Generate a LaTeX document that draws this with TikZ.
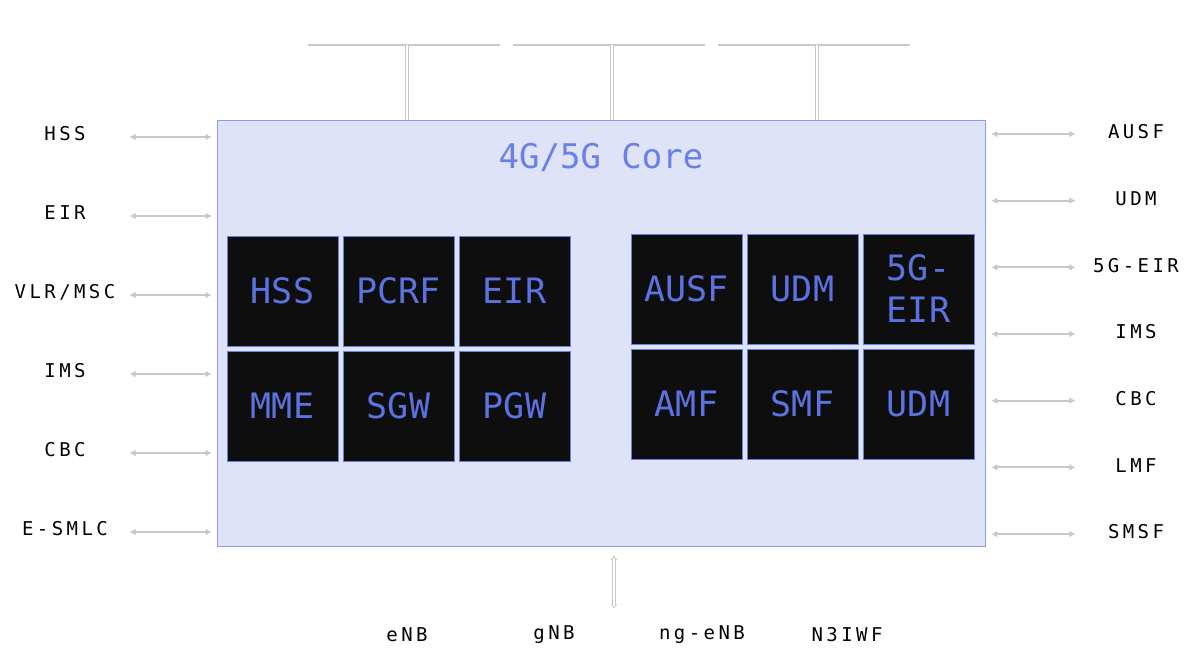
\documentclass[tikz,border=0pt]{standalone}
\usepackage{fontspec}
\setmonofont{DejaVu Sans Mono}
\newfontfamily\lblfont{DejaVu Sans Mono}[LetterSpace=18]
\usetikzlibrary{arrows.meta, positioning, calc}
\definecolor{cCore}{HTML}{DFE3F8}
\definecolor{cCoreEdge}{HTML}{8E9BEA}
\definecolor{cCell}{HTML}{0E0E0E}
\definecolor{cCellEdge}{HTML}{6B7FE0}
\definecolor{cText}{HTML}{5B72E0}
\definecolor{cTitle}{HTML}{6A80E6}
\definecolor{cWire}{HTML}{C8C8C8}
\tikzset{
  core/.style={draw=cCoreEdge, fill=cCore, line width=0.8pt,
    minimum width=768pt, minimum height=426pt, inner sep=0pt},
  cell/.style={draw=cCellEdge, fill=cCell, line width=1pt,
    minimum width=111pt, minimum height=110pt, inner sep=2pt,
    text width=100pt, align=center, text=cText,
    font=\ttfamily\fontsize{35}{42}\selectfont},
  ext/.style={font=\lblfont\fontsize{19}{22}\selectfont, text=black, inner sep=0pt},
  link/.style={{Latex[length=6pt,width=7pt]}-{Latex[length=6pt,width=7pt]},
    draw=cWire, line width=1.8pt},
  bus/.style={draw=cWire, line width=1.8pt},
  drop/.style={draw=cWire, line width=0.8pt, double=white, double distance=1.5pt},
  updown/.style={{Implies}-{Implies}, draw=cWire, line width=0.8pt,
    double=white, double distance=1.5pt},
}
\begin{document}
\begin{tikzpicture}[x=1pt, y=-1pt]
  \useasboundingbox (0,0) rectangle (1200,662);

  % Core box
  \node[core] (core) at (601,333) {};
  \node[font=\ttfamily\fontsize{34}{40}\selectfont, text=cTitle] (title) at (601,157) {4G/5G Core};

  % 4G functions
  \node[cell] (hss) at (282.5,291) {HSS};
  \node[cell, right=4pt of hss]  (pcrf) {PCRF};
  \node[cell, right=4pt of pcrf] (eir)  {EIR};
  \node[cell, below=4pt of hss]  (mme)  {MME};
  \node[cell, below=4pt of pcrf] (sgw)  {SGW};
  \node[cell, below=4pt of eir]  (pgw)  {PGW};

  % 5G functions
  \node[cell] (ausf) at (686.5,289) {AUSF};
  \node[cell, right=4pt of ausf] (udm)   {UDM};
  \node[cell, right=4pt of udm]  (geir)  {5G-\\EIR};
  \node[cell, below=4pt of ausf] (amf)   {AMF};
  \node[cell, below=4pt of udm]  (smf)   {SMF};
  \node[cell, below=4pt of geir] (udmb)  {UDM};

  % Left peers
  \foreach \lbl [count=\i] in {HSS,EIR,VLR/MSC,IMS,CBC,E-SMLC} {
    \node[ext] (west\i) at (65,{134+79*(\i-1)}) {\lbl};
    \draw[link] ([xshift=-87pt,yshift=-3pt]core.west |- west\i)
      -- ([xshift=-5pt,yshift=-3pt]core.west |- west\i);
  }

  % Right peers
  \foreach \lbl [count=\i] in {AUSF,UDM,5G-EIR,IMS,CBC,LMF,SMSF} {
    \node[ext] (east\i) at (1136,{132+66.67*(\i-1)}) {\lbl};
    \draw[link] ([xshift=6pt,yshift=-2pt]core.east |- east\i)
      -- ([xshift=90pt,yshift=-2pt]core.east |- east\i);
  }

  % Top buses
  \foreach \x [count=\i] in {404,609,814} {
    \coordinate (bus\i) at (\x,45);
    \draw[bus] ([xshift=-96pt]bus\i) -- ([xshift=96pt]bus\i);
    \draw[drop] ([xshift=3pt]bus\i) -- ([xshift=3pt]bus\i |- core.north);
  }

  % Radio access
  \node[ext] (enb)   at (407,635) {eNB};
  \node[ext] (gnb)   at (554,635) {gNB};
  \node[ext] (ngenb) at (702,635) {ng-eNB};
  \node[ext] (n3iwf) at (847,635) {N3IWF};
  \draw[updown] ([xshift=13pt,yshift=-9pt]core.south) -- ([xshift=13pt,yshift=-62pt]core.south);

\end{tikzpicture}
\end{document}
